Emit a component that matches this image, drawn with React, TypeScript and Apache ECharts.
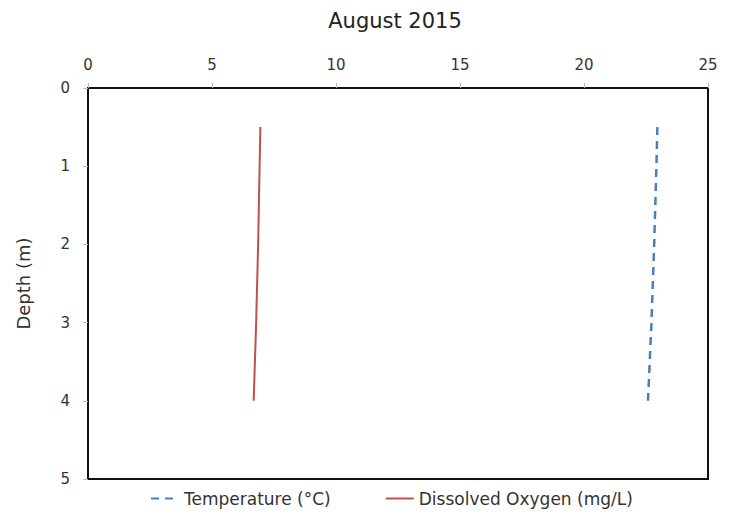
import React, { useEffect, useRef } from "react";
import * as echarts from "echarts";

const depths = [0.5, 1, 2, 3, 4];
const temperature = [22.96, 22.92, 22.83, 22.72, 22.58];
const dissolvedOxygen = [6.95, 6.92, 6.86, 6.78, 6.68];
const titleText = "August 2015";
const seriesNames = ["Temperature (°C)", "Dissolved Oxygen (mg/L)"];

const FONT = "'DejaVu Sans', sans-serif";

export default function App() {
  const ref = useRef<HTMLDivElement>(null);
  useEffect(() => {
    const chart = echarts.init(ref.current!, null, { renderer: "svg" });
    chart.setOption({
      animation: false,
      textStyle: { fontFamily: FONT },
      title: {
        text: titleText,
        left: 390,
        textAlign: "center",
        top: 5,
        textStyle: { fontFamily: FONT, fontSize: 21, fontWeight: "normal", color: "#222" },
      },
      legend: {
        bottom: 3,
        left: 145,
        itemWidth: 28,
        itemHeight: 10,
        itemGap: 54,
        itemStyle: { opacity: 0 },
        textStyle: { fontFamily: FONT, fontSize: 17, color: "#333" },
        data: seriesNames,
      },
      grid: {
        left: 88,
        right: 25,
        top: 88,
        bottom: 36,
        show: true,
        borderColor: "#111",
        borderWidth: 2,
      },
      xAxis: {
        type: "value",
        position: "top",
        min: 0,
        max: 25,
        interval: 5,
        axisLine: { show: true, lineStyle: { color: "#111", width: 2 } },
        axisTick: { show: true, length: 5, lineStyle: { color: "#bbb" } },
        axisLabel: { fontFamily: FONT, fontSize: 15, color: "#333", margin: 16 },
        splitLine: { show: false },
      },
      yAxis: {
        type: "value",
        inverse: true,
        min: 0,
        max: 5,
        interval: 1,
        name: "Depth (m)",
        nameLocation: "middle",
        nameGap: 56,
        nameRotate: 90,
        nameTextStyle: { fontFamily: FONT, fontSize: 18, color: "#333" },
        axisLine: { show: true, lineStyle: { color: "#111", width: 2 } },
        axisTick: { show: true, length: 5, lineStyle: { color: "#bbb" } },
        axisLabel: { fontFamily: FONT, fontSize: 15, color: "#333", margin: 18 },
        splitLine: { show: false },
      },
      series: [
        {
          name: seriesNames[0],
          type: "line",
          showSymbol: false,
          symbol: "none",
          data: depths.map((d, i) => [temperature[i], d]),
          lineStyle: { color: "#4a7ebb", width: 2.5, type: [8, 6] },
          itemStyle: { color: "#4a7ebb" },
        },
        {
          name: seriesNames[1],
          type: "line",
          showSymbol: false,
          symbol: "none",
          data: depths.map((d, i) => [dissolvedOxygen[i], d]),
          lineStyle: { color: "#c0504d", width: 2 },
          itemStyle: { color: "#c0504d" },
        },
      ],
    });
    return () => chart.dispose();
  }, []);
  return <div ref={ref} style={{ width: 733, height: 515, position: "absolute", left: 0, top: 0 }} />;
}
